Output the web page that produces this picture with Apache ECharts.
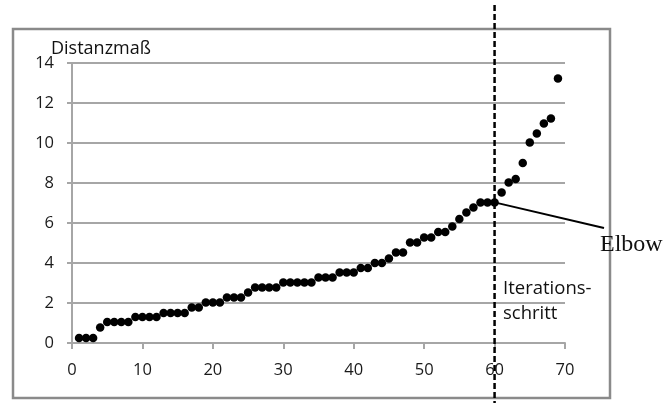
<!DOCTYPE html>
<html>
<head>
<meta charset="utf-8">
<script src="https://cdn.jsdelivr.net/npm/echarts@6/dist/echarts.min.js"></script>
<style>
  html, body { margin: 0; padding: 0; background: #fff; }
  #chart { width: 667px; height: 403px; }
</style>
</head>
<body>
<div id="chart"></div>
<script>
// Iteration steps of the clustering run and the distance measure at each merge
const steps = [1,2,3,4,5,6,7,8,9,10,11,12,13,14,15,16,17,18,19,20,21,22,23,24,25,26,27,28,29,30,
  31,32,33,34,35,36,37,38,39,40,41,42,43,44,45,46,47,48,49,50,51,52,53,54,55,56,57,58,59,60,
  61,62,63,64,65,66,67,68,69];
const distances = [0.25,0.25,0.25,0.78,1.05,1.05,1.05,1.05,1.3,1.3,1.3,1.3,1.5,1.5,1.5,1.5,
  1.77,1.77,2.02,2.02,2.02,2.27,2.27,2.27,2.52,2.78,2.78,2.78,2.78,3.03,3.03,3.03,3.03,3.03,
  3.28,3.28,3.28,3.53,3.53,3.53,3.75,3.75,4.0,4.0,4.23,4.52,4.52,5.02,5.02,5.28,5.28,5.55,5.55,
  5.82,6.2,6.52,6.77,7.03,7.03,7.03,7.53,8.03,8.2,9.0,10.02,10.48,10.98,11.23,13.23];
const xRange = [0, 70, 10];
const yRange = [0, 14, 2];
const elbowStep = 60;

const yTitle = 'Distanzmaß';
const xTitle = 'Iterations-\nschritt';
const elbowLabel = 'Elbow';

const points = steps.map((s, i) => [s, distances[i]]);

const chart = echarts.init(document.getElementById('chart'), null, { renderer: 'canvas' });
const axisGray = '#a6a6a6';
const labelFont = { fontFamily: 'Open Sans', fontSize: 16.5, color: '#1a1a1a' };

chart.setOption({
  animation: false,
  backgroundColor: '#fff',
  grid: { left: 72, right: 102, top: 63, bottom: 60, containLabel: false },
  xAxis: {
    type: 'value', min: xRange[0], max: xRange[1], interval: xRange[2],
    axisLine: { show: true, lineStyle: { color: axisGray, width: 2 } },
    axisTick: { show: true, inside: false, length: 6, lineStyle: { color: axisGray, width: 2 } },
    axisLabel: Object.assign({ margin: 19 }, labelFont),
    splitLine: { show: false }
  },
  yAxis: {
    type: 'value', min: yRange[0], max: yRange[1], interval: yRange[2],
    axisLine: { show: true, lineStyle: { color: axisGray, width: 2 } },
    axisTick: { show: true, inside: false, length: 5, lineStyle: { color: axisGray, width: 2 } },
    axisLabel: Object.assign({ margin: 18 }, labelFont),
    splitLine: { show: true, lineStyle: { color: axisGray, width: 2 } }
  },
  series: [{
    type: 'scatter',
    data: points,
    symbol: 'circle',
    symbolSize: 8.5,
    itemStyle: { color: '#000', opacity: 1 },
    z: 5
  }]
});

// Annotations: frame, titles, elbow marker line and pointer
const elbowIdx = steps.indexOf(elbowStep);
const elbowPt = chart.convertToPixel({ gridIndex: 0 }, [elbowStep, distances[elbowIdx]]);
const cutX = chart.convertToPixel({ xAxisIndex: 0 }, elbowStep);

chart.setOption({
  graphic: [
    {
      type: 'rect', z: 1,
      shape: { x: 13, y: 29, width: 597, height: 369 },
      style: { fill: 'none', stroke: '#8a8a8a', lineWidth: 2.5 }
    },
    {
      type: 'text', z: 10, left: 51, top: 40,
      style: { text: yTitle, font: '18px "Open Sans"', fill: '#111' }
    },
    {
      type: 'text', z: 10, left: 503, top: 276,
      style: { text: xTitle, font: '18.5px "Open Sans"', fill: '#111', lineHeight: 25 }
    },
    {
      type: 'line', z: 20,
      shape: { x1: cutX, y1: 5, x2: cutX, y2: 403 },
      style: { stroke: '#000', lineWidth: 2.5, lineDash: [6, 3] }
    },
    {
      type: 'line', z: 20,
      shape: { x1: elbowPt[0], y1: elbowPt[1], x2: 604, y2: 228 },
      style: { stroke: '#000', lineWidth: 2 }
    },
    {
      type: 'text', z: 20, left: 600, top: 233,
      style: { text: elbowLabel, font: '24px "Liberation Serif"', fill: '#111' }
    }
  ]
});
</script>
</body>
</html>
